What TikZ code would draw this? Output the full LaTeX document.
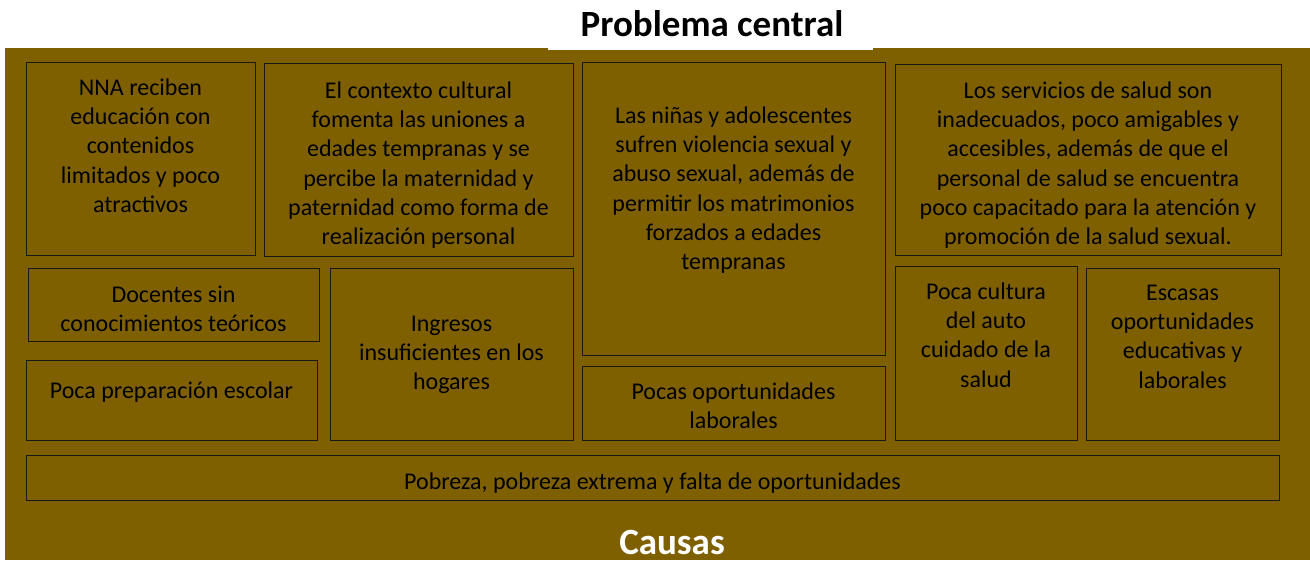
\documentclass[tikz,border=0pt]{standalone}
\usepackage{fontspec}
\setmainfont{Carlito}
\usetikzlibrary{fit}
\definecolor{goldbg}{HTML}{7F6000}
\tikzset{
  cbox/.style={draw=black!90, line width=0.9pt, inner sep=0pt, rectangle},
  ctext/.style={anchor=north, inner sep=0pt, align=center, text=black,
    font=\fontsize{24}{29.3}\selectfont, execute at begin node=\strut},
  ttl/.style={anchor=base, inner sep=0pt, font=\fontsize{37}{40}\selectfont\bfseries}
}
\begin{document}
\begin{tikzpicture}[x=1pt,y=-1pt]
\useasboundingbox (0,0) rectangle (1310,560);
\fill[goldbg] (5,48) rectangle (1310,560);
\fill[white] (548,0) rectangle (873,49.5);
\node[ttl, text=black] (title) at (712,36) {Problema central};
\node[ttl, text=white] (causas) at (672,554) {Causas};
% boxes
\node[cbox, fit={(26,62) (255,255)}] (b1) {};
\node[cbox, fit={(264,63) (573,256)}] (b2) {};
\node[cbox, fit={(582,62) (885,355)}] (b3) {};
\node[cbox, fit={(895,64) (1281,255)}] (b4) {};
\node[cbox, fit={(28,268) (319,341)}] (b5) {};
\node[cbox, fit={(26,360) (317,440)}] (b6) {};
\node[cbox, fit={(330,268) (573,440)}] (b7) {};
\node[cbox, fit={(582,366) (885,440)}] (b8) {};
\node[cbox, fit={(895,266) (1077,440)}] (b9) {};
\node[cbox, fit={(1086,268) (1279,440)}] (b10) {};
\node[cbox, fit={(26,455) (1279,500)}] (b11) {};
% texts
\node[ctext] (t1) at (140.5,78.5) {NNA reciben\\educación con\\contenidos\\limitados y poco\\atractivos};
\node[ctext] (t2) at (418.5,81.5) {El contexto cultural\\fomenta las uniones a\\edades tempranas y se\\percibe la maternidad y\\paternidad como forma de\\realización personal};
\node[ctext] (t3) at (733.5,106.5) {Las niñas y adolescentes\\sufren violencia sexual y\\abuso sexual, además de\\permitir los matrimonios\\forzados a edades\\tempranas};
\node[ctext] (t4) at (1088,81.5) {Los servicios de salud son\\inadecuados, poco amigables y\\accesibles, además de que el\\personal de salud se encuentra\\poco capacitado para la atención y\\promoción de la salud sexual.};
\node[ctext] (t5) at (173.5,285.5) {Docentes sin\\conocimientos teóricos};
\node[ctext] (t6) at (171.5,377.5) {Poca preparación escolar};
\node[ctext] (t7) at (451.5,315.5) {Ingresos\\insuficientes en los\\hogares};
\node[ctext] (t8) at (733.5,382.5) {Pocas oportunidades\\laborales};
\node[ctext] (t9) at (986,282.5) {Poca cultura\\del auto\\cuidado de la\\salud};
\node[ctext] (t10) at (1182.5,284.5) {Escasas\\oportunidades\\educativas y\\laborales};
\node[ctext] (t11) at (652.5,468.5) {Pobreza, pobreza extrema y falta de oportunidades};
\end{tikzpicture}
\end{document}
